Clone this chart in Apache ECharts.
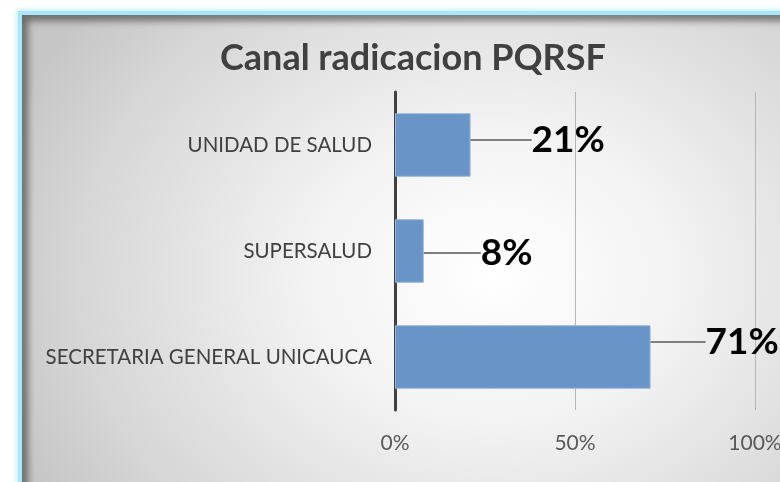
<!DOCTYPE html>
<html>
<head>
<meta charset="utf-8">
<script src="https://cdn.jsdelivr.net/npm/echarts@6/dist/echarts.min.js"></script>
<style>
  html, body { margin: 0; padding: 0; background: #fff; overflow: hidden; }
  #frame {
    position: absolute; left: 18px; top: 11px; width: 800px; height: 500px;
    border-left: 4px solid #a9e6f7; border-top: 4px solid #a9e6f7;
    box-shadow: -2px -2px 4px #c9f1fb;
    background: radial-gradient(ellipse 520px 420px at 470px 260px, #ffffff 0%, #f3f3f3 35%, #d6d6d6 80%, #c6c6c6 100%);
  }
  #frame::after {
    content: ''; position: absolute; left: 0; top: 0; right: 0; bottom: 0;
    box-shadow: inset 6px 6px 7px rgba(0,0,0,0.45);
  }
  #container { position: absolute; left: 0; top: 0; width: 780px; height: 482px; }
</style>
</head>
<body>
<div id="frame"></div>
<div id="container"></div>
<script>
// datos del grafico (de abajo hacia arriba)
const categories = ['SECRETARIA GENERAL UNICAUCA', 'SUPERSALUD', 'UNIDAD DE SALUD']
const values = [0.71, 0.08, 0.21]
const tickLabels = ['0%', '50%', '100%']

// desplazamiento de cada etiqueta (para la linea guia)
const labelShift = [[50, -15], [52, 2], [56, -5]]

var myChart = echarts.init(document.getElementById('container'))
myChart.setOption({
  title: {
    text: 'Canal radicacion PQRSF',
    left: 215,
    top: 35,
    textStyle: {
      fontFamily: 'Lato',
      fontSize: 36,
      fontWeight: 'bold',
      color: '#404040'
    }
  },
  grid: {
    left: 395,
    right: 25,
    top: 92,
    bottom: 72,
    containLabel: false,
    outerBoundsMode: 'none'
  },
  xAxis: {
    type: 'value',
    min: 0,
    max: 1,
    interval: 0.5,
    axisLine: { show: false },
    axisTick: { show: false },
    splitLine: { lineStyle: { color: '#b5b5b5', width: 1 } },
    axisLabel: {
      margin: 23,
      fontFamily: 'Lato',
      fontSize: 21,
      color: '#595959',
      formatter: function (v) { return tickLabels[Math.round(v * 2)] }
    }
  },
  yAxis: {
    type: 'category',
    data: categories,
    axisLine: { lineStyle: { color: '#404040', width: 3 } },
    axisTick: { show: false },
    axisLabel: {
      margin: 23,
      fontFamily: 'Lato',
      fontSize: 20.5,
      color: '#404040'
    }
  },
  series: [
    {
      type: 'bar',
      data: values,
      barWidth: '60%',
      itemStyle: {
        color: '#6894c8',
        borderColor: '#9ab8dd',
        borderWidth: 1
      },
      label: {
        show: true,
        position: 'right',
        distance: 5,
        fontFamily: 'Lato',
        fontSize: 37,
        fontWeight: 'bold',
        color: '#000',
        formatter: function (p) { return Math.round(p.value * 100) + '%' }
      },
      labelLine: {
        show: true,
        lineStyle: { color: '#7f7f7f', width: 2 }
      },
      labelLayout: function (p) {
        return { dx: labelShift[p.dataIndex][0], dy: labelShift[p.dataIndex][1] }
      }
    }
  ]
})
</script>
</body>
</html>
